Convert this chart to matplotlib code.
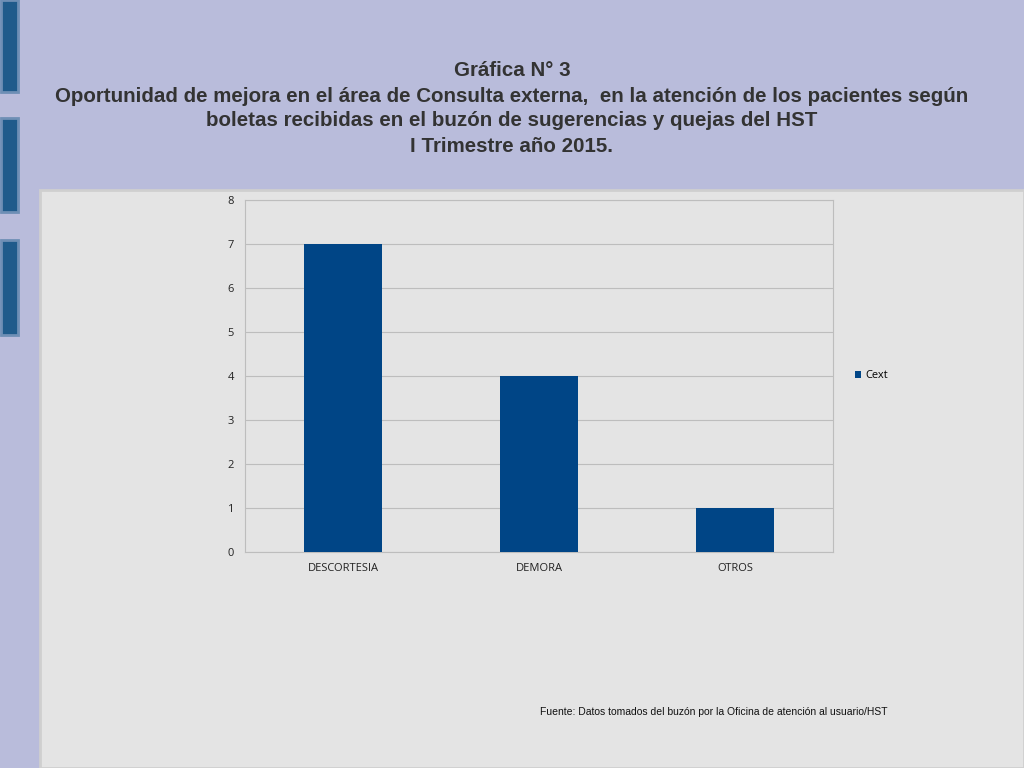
import matplotlib
matplotlib.use("Agg")
import matplotlib.pyplot as plt
from matplotlib.patches import Rectangle

categories = ["DESCORTESIA", "DEMORA", "OTROS"]
values = [7, 4, 1]
series_name = "Cext"
yticks = list(range(0, 9))

fig = plt.figure(figsize=(10.24, 7.68), dpi=100)
fig.patch.set_facecolor("#B9BCDB")

# gray panel
fig.add_artist(Rectangle((40/1024, 0), 984/1024, 578/768, transform=fig.transFigure,
                         facecolor="#E4E4E4", edgecolor="#CFCFCF", lw=2, zorder=-5))
# left decorative blocks
for y0, y1 in [(0, 92), (118, 212), (240, 335)]:
    fig.add_artist(Rectangle((1/1024, 1 - y1/768), 17/1024, (y1 - y0)/768,
                             transform=fig.transFigure, facecolor="#1F5B8B",
                             edgecolor="#6E8FB5", lw=2, zorder=-5))

fig.text(0.5, 1 - 71/768, "Gráfica N° 3", ha="center", va="center",
         fontsize=14.8, fontweight="bold", family="Liberation Sans", color="#333333")
lines = ["Oportunidad de mejora en el área de Consulta externa,  en la atención de los pacientes según",
         "boletas recibidas en el buzón de sugerencias y quejas del HST",
         "I Trimestre año 2015."]
for i, t in enumerate(lines):
    fig.text(0.5, 1 - (96 + 25*i)/768, t, ha="center", va="center",
             fontsize=14.8, fontweight="bold", family="Liberation Sans", color="#333333")

ax = fig.add_axes([245/1024, 1 - 552/768, 588/1024, 352/768])
ax.set_facecolor("#E4E4E4")
x = range(len(categories))
ax.bar(x, values, width=0.4, color="#004586", label=series_name, zorder=3)
ax.set_xlim(-0.5, len(categories) - 0.5)
ax.set_ylim(0, 8)
ax.set_yticks(yticks)
ax.set_xticks(list(x))
ax.set_xticklabels(categories)
ax.grid(axis="y", color="#BDBDBD", lw=0.8, zorder=0)
for s in ax.spines.values():
    s.set_color("#BDBDBD")
ax.tick_params(length=0, labelsize=8, colors="#222222", pad=8)
for lab in ax.get_xticklabels() + ax.get_yticklabels():
    lab.set_family("Open Sans")
ax.legend(loc="center left", bbox_to_anchor=(1.02, 0.5), frameon=False,
          prop={"family": "Open Sans", "size": 8}, handlelength=0.6, handleheight=0.6,
          handletextpad=0.4)

fig.text(540/1024, 1 - 712/768, "Fuente: Datos tomados del buzón por la Oficina de atención al usuario/HST",
         ha="left", va="center", fontsize=7.5, family="Liberation Sans", color="#111111")

fig.savefig("out.png", dpi=100, facecolor=fig.get_facecolor())
